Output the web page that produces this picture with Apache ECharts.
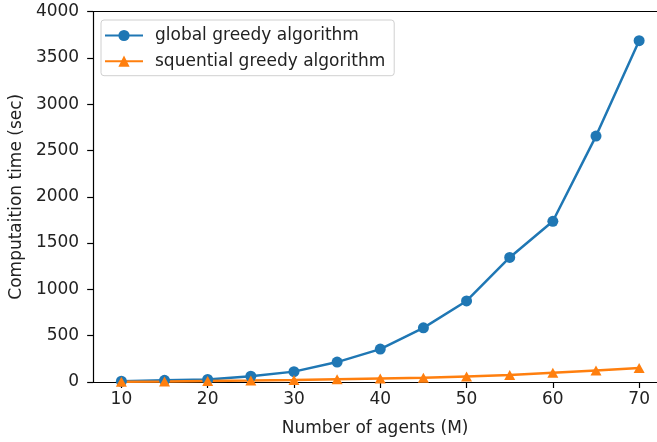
<!DOCTYPE html>
<html>
<head>
<meta charset="utf-8">
<script src="https://cdn.jsdelivr.net/npm/echarts@6/dist/echarts.min.js"></script>
<style>
html,body{margin:0;padding:0;background:#fff;}
#chart{width:657px;height:442px;}
</style>
</head>
<body>
<div id="chart"></div>
<script>
const agents = [10, 15, 20, 25, 30, 35, 40, 45, 50, 55, 60, 65, 70];
const globalGreedy = [8, 18, 28, 62, 112, 215, 355, 585, 875, 1345, 1735, 2655, 3685];
const sequentialGreedy = [2, 5, 10, 15, 22, 30, 38, 45, 60, 75, 100, 125, 150];
const xTicks = [10, 20, 30, 40, 50, 60, 70];
const seriesNames = ['global greedy algorithm', 'squential greedy algorithm'];

const font = 'DejaVu Sans';
const fs = 17;
const txt = '#222';
const xMin = 6.73, xMax = 72.07;
const chart = echarts.init(document.getElementById('chart'), null, {renderer: 'canvas'});
chart.setOption({
  animation: false,
  backgroundColor: '#fff',
  textStyle: {fontFamily: font},
  grid: {left: 91, top: 11.5, right: 0, height: 371.8, show: false},
  legend: {
    orient: 'vertical',
    left: 101, top: 20,
    padding: [7, 9, 6, 3],
    itemWidth: 38, itemHeight: 14, itemGap: 8.7,
    backgroundColor: 'rgba(255,255,255,0.8)',
    borderColor: '#d0d0d0', borderWidth: 1, borderRadius: 3,
    textStyle: {fontFamily: font, fontSize: fs, lineHeight: 17, color: txt, padding: [0, 0, 0, 7]},
    data: seriesNames
  },
  xAxis: [{
    type: 'value', min: xMin, max: xMax,
    name: 'Number of agents (M)', nameLocation: 'middle', nameGap: 38,
    nameTextStyle: {fontFamily: font, fontSize: fs, color: txt},
    axisLine: {lineStyle: {color: '#000', width: 1.2}},
    axisTick: {show: true, length: 6, inside: false, customValues: xTicks, lineStyle: {color: '#000', width: 1.2}},
    axisLabel: {fontFamily: font, fontSize: fs, color: txt, margin: 9, customValues: xTicks},
    splitLine: {show: false}
  }, {
    type: 'value', position: 'top', min: xMin, max: xMax,
    axisLine: {show: true, lineStyle: {color: '#000', width: 1.2}},
    axisTick: {show: false}, axisLabel: {show: false}, splitLine: {show: false}
  }],
  yAxis: {
    type: 'value', min: 0, max: 4000, interval: 500,
    name: 'Computaition time (sec)', nameLocation: 'middle', nameGap: 60,
    nameTextStyle: {fontFamily: font, fontSize: fs, color: txt},
    axisLine: {show: true, lineStyle: {color: '#000', width: 1.2}},
    axisTick: {show: true, length: 6, inside: false, lineStyle: {color: '#000', width: 1.2}},
    axisLabel: {fontFamily: font, fontSize: fs, color: txt, margin: 14, formatter: v => String(v)},
    splitLine: {show: false}
  },
  series: [
    {
      name: seriesNames[0], type: 'line',
      data: agents.map((a, i) => [a, globalGreedy[i]]),
      symbol: 'circle', symbolSize: 11,
      lineStyle: {color: '#1f77b4', width: 2.5},
      itemStyle: {color: '#1f77b4'}
    },
    {
      name: seriesNames[1], type: 'line',
      data: agents.map((a, i) => [a, sequentialGreedy[i]]),
      symbol: 'triangle', symbolSize: [11, 10],
      lineStyle: {color: '#ff7f0e', width: 2.5},
      itemStyle: {color: '#ff7f0e'}
    }
  ]
});
</script>
</body>
</html>
